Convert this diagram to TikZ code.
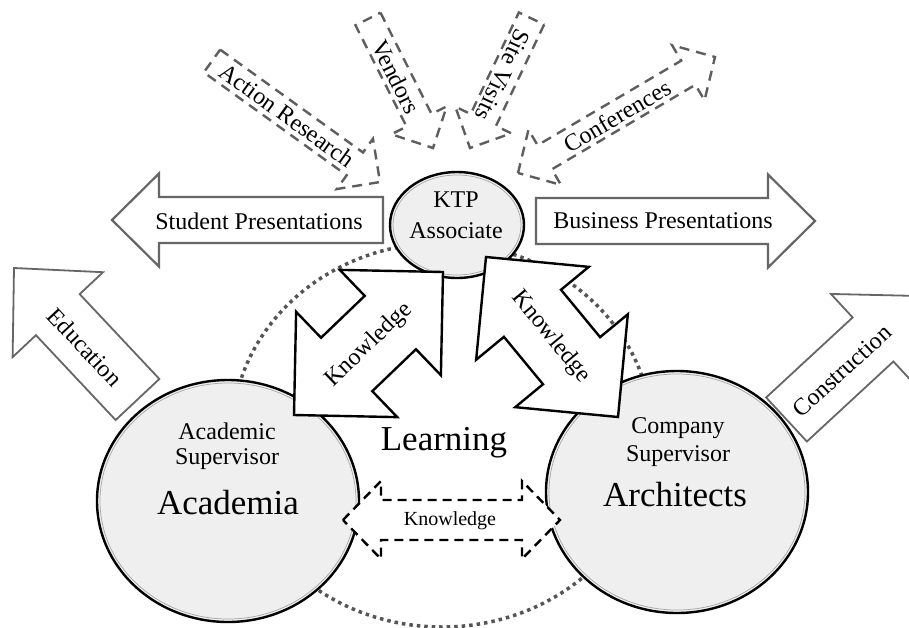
\documentclass[tikz,border=0pt]{standalone}
\usepackage{fontspec}
\setmainfont{Liberation Serif}
\usetikzlibrary{calc,shapes.geometric}
\newcommand{\fsz}[1]{\fontsize{#1}{#1}\selectfont}
% single-headed block arrow: tail, tip, shaft half width, head half width, head length, style
\newcommand{\onearrow}[6]{%
  \coordinate (aT) at (#1); \coordinate (aP) at (#2);
  \coordinate (aB) at ($(aP)!#5!(aT)$);
  \draw[#6] ($(aT)!#3!90:(aP)$) -- ($(aB)!#3!90:(aP)$) -- ($(aB)!#4!90:(aP)$) -- (aP)
    -- ($(aB)!#4!-90:(aP)$) -- ($(aB)!#3!-90:(aP)$) -- ($(aT)!#3!-90:(aP)$) -- cycle;}
% double-headed block arrow: tipA, tipB, shaft half width, head half width, head length, style
\newcommand{\twoarrow}[6]{%
  \coordinate (aA) at (#1); \coordinate (aZ) at (#2);
  \coordinate (aBA) at ($(aA)!#5!(aZ)$);
  \coordinate (aBZ) at ($(aZ)!#5!(aA)$);
  \draw[#6] (aA) -- ($(aBA)!#4!90:(aZ)$) -- ($(aBA)!#3!90:(aZ)$) -- ($(aBZ)!#3!-90:(aA)$)
    -- ($(aBZ)!#4!-90:(aA)$) -- (aZ) -- ($(aBZ)!#4!90:(aA)$) -- ($(aBZ)!#3!90:(aA)$)
    -- ($(aBA)!#3!-90:(aZ)$) -- ($(aBA)!#4!-90:(aZ)$) -- cycle;}
\definecolor{arrgray}{HTML}{666666}
\definecolor{dashgray}{HTML}{5E5E5E}
\definecolor{dotgray}{HTML}{555555}
\definecolor{circfill}{HTML}{EFEFEF}
\tikzset{
  grayarrow/.style={draw=arrgray, fill=white, line width=2.2pt, line join=miter},
  thinarrow/.style={draw=arrgray, fill=white, line width=1.8pt, line join=miter},
  dasharrow/.style={draw=dashgray, fill=white, line width=2.4pt, dash pattern=on 10pt off 7pt},
  knowarrow/.style={draw=black, fill=white, line width=2.4pt, line join=miter},
  kdash/.style={draw=black, fill=white, line width=2.4pt, dash pattern=on 9pt off 6pt},
  bigcirc/.style={ellipse, draw=black, fill=circfill, line width=2.4pt, inner sep=0pt},
  lbl/.style={inner sep=0pt, font=\fsz{24}},
  biglbl/.style={inner sep=0pt, font=\fsz{35}},
}
\begin{document}
\begin{tikzpicture}[x=1pt, y=-1pt]
\useasboundingbox (0,0) rectangle (909,627);
\clip (0,0) rectangle (909,627);
\fill[white] (0,0) rectangle (909,627);
% dotted learning ellipse
\draw[dotgray, line width=3.5pt, dash pattern=on 3.5pt off 4pt] (442,435) ellipse [x radius=210pt, y radius=192pt];
% presentation arrows
\onearrow{383,220}{112,220}{23pt}{46.5pt}{47pt}{grayarrow}
\onearrow{536,221}{815,221}{23pt}{46.5pt}{47pt}{grayarrow}
% education / construction
\onearrow{137.5,399.5}{14,268}{30pt}{62pt}{64pt}{thinarrow}
\onearrow{786.5,419.5}{920,296}{30pt}{62pt}{64pt}{thinarrow}
% dashed input arrows
\onearrow{212,61}{380,182}{14pt}{31pt}{31pt}{dasharrow}
\onearrow{368,19}{433,148}{14pt}{31pt}{31pt}{dasharrow}
\onearrow{531.5,18.5}{470,148}{14pt}{31pt}{31pt}{dasharrow}
\twoarrow{518,173}{715,57}{14pt}{32pt}{31pt}{dasharrow}
% circles
\node[bigcirc, minimum width=134pt, minimum height=106pt] (ktp) at (457,225) {};
\draw[gray!70, line width=0.7pt] (457,225) ellipse [x radius=64pt, y radius=50pt];
\node[bigcirc, minimum width=262pt, minimum height=242pt] (acad) at (228,501) {};
\draw[gray!70, line width=0.7pt] (228,501) ellipse [x radius=128pt, y radius=118pt];
\node[bigcirc, minimum width=262pt, minimum height=242pt] (arch) at (677,492) {};
\draw[gray!70, line width=0.7pt] (677,492) ellipse [x radius=128pt, y radius=118pt];
% knowledge arrows
\twoarrow{443,272}{294,415}{37pt}{73pt}{73pt}{knowarrow}
\twoarrow{486,257}{618,417}{37pt}{73pt}{73pt}{knowarrow}
\twoarrow{343,520}{560,520}{20pt}{39pt}{38pt}{kdash}
% texts
\node[lbl] (tktp) at (456,200) {KTP};
\node[lbl] (tassoc) at (456,231) {Associate};
\node[lbl] (tsp) at (259,221) {Student Presentations};
\node[lbl] (tbp) at (663,221) {Business Presentations};
\node[lbl, rotate=-47] (tedu) at (85,347) {Education};
\node[lbl, rotate=42.6] (tcon) at (842,371) {Construction};
\node[lbl, rotate=-35.8] (tact) at (287,115) {Action Research};
\node[lbl, rotate=-63.3] (tven) at (396,77) {Vendors};
\node[lbl, rotate=-115.4] (tsite) at (503,75) {Site Visits};
\node[lbl, rotate=30.5] (tconf) at (617,116) {Conferences};
\node[lbl, rotate=43.8] (tk1) at (369,345) {Knowledge};
\node[lbl, rotate=-50.5] (tk2) at (551,337) {Knowledge};
\node[inner sep=0pt, font=\fsz{20}] (tk3) at (450,521) {Knowledge};
\node[biglbl] (tlearn) at (444,443) {Learning};
\node[lbl] (tacad1) at (227,431) {Academic};
\node[lbl] (tacad2) at (227,459) {Supervisor};
\node[biglbl] (tacad3) at (228,503) {Academia};
\node[lbl] (tcomp1) at (678,428) {Company};
\node[lbl] (tcomp2) at (678,456) {Supervisor};
\node[biglbl] (tcomp3) at (675,495) {Architects};
\end{tikzpicture}
\end{document}
